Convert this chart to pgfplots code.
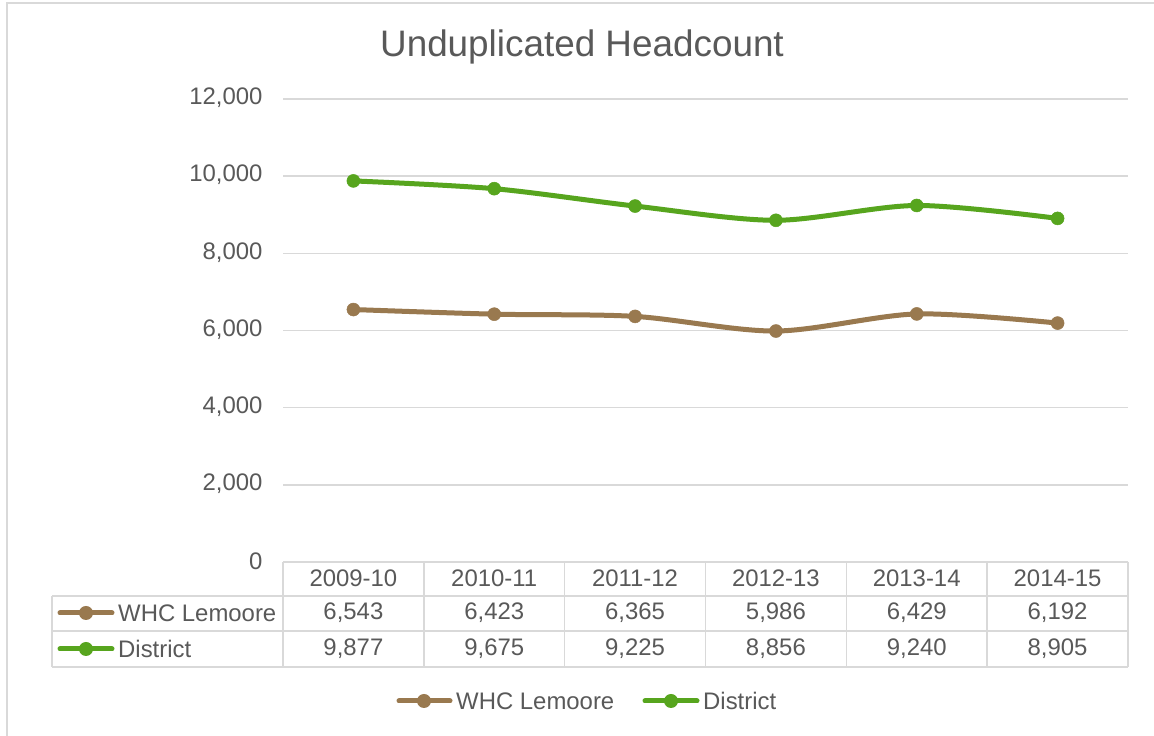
\documentclass[border=0pt]{standalone}
\usepackage{pgfplots}
\usepackage{pgfplotstable}
\pgfplotsset{compat=1.18}
\usepackage{fontspec}
\setmainfont{Liberation Sans}
\definecolor{brn}{RGB}{153,121,79}
\definecolor{grn}{RGB}{87,165,30}
\definecolor{txt}{RGB}{89,89,89}
\definecolor{grd}{RGB}{217,217,217}

\pgfplotstableread{
x whc dist
0 6543 9877
1 6423 9675
2 6365 9225
3 5986 8856
4 6429 9240
5 6192 8905
}\datatable

\newcommand{\tf}{\fontsize{24}{26}\selectfont}

\begin{document}
\begin{tikzpicture}[x=1bp,y=1bp]
\useasboundingbox (0,0) rectangle (1154,736);
\fill[white] (0,0) rectangle (1154,736);
\draw[grd, line width=1.5bp] (7,-5) -- (7,733) -- (1160,733);
\node[txt, font=\fontsize{37}{40}\selectfont] at (582,689) {Unduplicated Headcount};
\begin{axis}[
  at={(283bp,174bp)}, anchor=south west,
  scale only axis, width=845bp, height=463bp,
  xmin=-0.5, xmax=5.5, ymin=0, ymax=12000,
  axis line style={draw=none},
  xtick=\empty,
  ytick={0,2000,...,12000},
  scaled y ticks=false,
  major tick length=0pt,
  ymajorgrids,
  grid style={grd, line width=1.5bp},
  yticklabel style={font=\tf, text=txt, xshift=-17bp, yshift=1bp,
    /pgf/number format/fixed, /pgf/number format/precision=0},
  /pgf/number format/assume math mode=true,
  /pgf/number format/1000 sep={,},
  clip=false,
]
\addplot[brn, line width=5bp, smooth, tension=0.5, mark=*, mark size=6.5bp,
  mark options={solid, fill=brn, draw=brn, line width=0.5bp}] table[x=x,y=whc]{\datatable};
\addplot[grn, line width=5bp, smooth, tension=0.5, mark=*, mark size=6.5bp,
  mark options={solid, fill=grn, draw=grn, line width=0.5bp}] table[x=x,y=dist]{\datatable};
\end{axis}
% data table grid
\begin{scope}[grd, line width=1.5bp]
\draw (283,174) -- (1128,174);
\draw (52,140) -- (1128,140);
\draw (52,105) -- (1128,105);
\draw (52,69) -- (1128,69);
\draw (52,140) -- (52,69);
\foreach \i in {0,...,6}{
  \draw ({283+\i*140.83},174) -- ({283+\i*140.83},69);
}
\end{scope}
% header labels
\foreach \lab [count=\i from 0] in {2009-10,2010-11,2011-12,2012-13,2013-14,2014-15}{
  \node[txt, font=\tf] at ({353.4+\i*140.83},158) {\lab};
}
% values
\foreach \i in {0,...,5}{
  \pgfplotstablegetelem{\i}{whc}\of\datatable
  \node[txt, font=\tf] at ({353.4+\i*140.83},123) {\pgfmathprintnumber[assume math mode=true,1000 sep={,}]{\pgfplotsretval}};
  \pgfplotstablegetelem{\i}{dist}\of\datatable
  \node[txt, font=\tf] at ({353.4+\i*140.83},87) {\pgfmathprintnumber[assume math mode=true,1000 sep={,}]{\pgfplotsretval}};
}
% table legend keys
\draw[brn, line width=5bp, line cap=round] (60,123) -- (112,123);
\fill[brn] (86,123) circle (7);
\node[txt, font=\tf, anchor=west, inner sep=0pt] at (118,123) {WHC Lemoore};
\draw[grn, line width=5bp, line cap=round] (60,87) -- (112,87);
\fill[grn] (86,87) circle (7);
\node[txt, font=\tf, anchor=west, inner sep=0pt] at (118,87) {District};
% bottom legend
\draw[brn, line width=5bp, line cap=round] (399,35) -- (450,35);
\fill[brn] (424,35) circle (7);
\node[txt, font=\tf, anchor=west, inner sep=0pt] at (456,35) {WHC Lemoore};
\draw[grn, line width=5bp, line cap=round] (645,35) -- (697,35);
\fill[grn] (671,35) circle (7);
\node[txt, font=\tf, anchor=west, inner sep=0pt] at (703,35) {District};
\end{tikzpicture}
\end{document}
